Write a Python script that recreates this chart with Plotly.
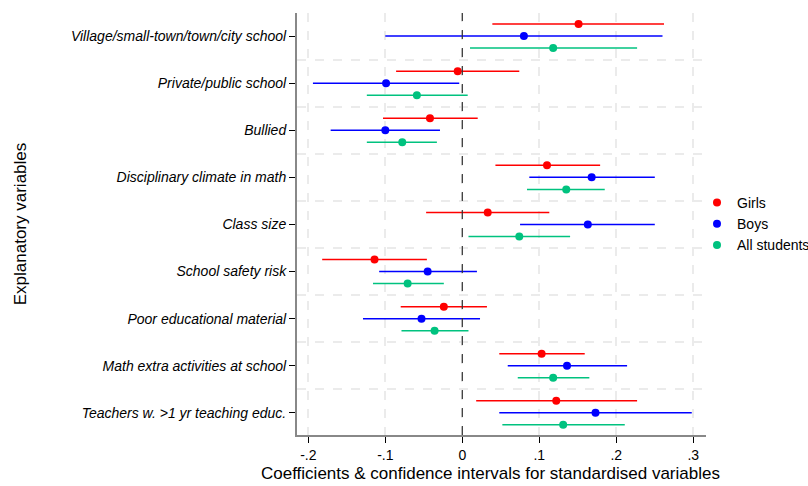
import plotly.graph_objects as go

variables = [
    "Village/small-town/town/city school",
    "Private/public school",
    "Bullied",
    "Disciplinary climate in math",
    "Class size",
    "School safety risk",
    "Poor educational material",
    "Math extra activities at school",
    "Teachers w. >1 yr teaching educ.",
]

girls_coef = [0.151, -0.006, -0.042, 0.110, 0.033, -0.114, -0.024, 0.103, 0.122]
girls_lo = [0.039, -0.086, -0.103, 0.043, -0.047, -0.182, -0.080, 0.048, 0.018]
girls_hi = [0.262, 0.074, 0.020, 0.179, 0.113, -0.046, 0.032, 0.159, 0.227]

boys_coef = [0.080, -0.099, -0.100, 0.168, 0.163, -0.045, -0.053, 0.136, 0.173]
boys_lo = [-0.100, -0.194, -0.171, 0.087, 0.075, -0.108, -0.129, 0.059, 0.048]
boys_hi = [0.260, -0.004, -0.029, 0.250, 0.250, 0.019, 0.023, 0.214, 0.298]

all_coef = [0.118, -0.059, -0.078, 0.135, 0.074, -0.071, -0.036, 0.118, 0.131]
all_lo = [0.010, -0.124, -0.124, 0.084, 0.008, -0.116, -0.079, 0.072, 0.052]
all_hi = [0.227, 0.007, -0.033, 0.185, 0.140, -0.024, 0.008, 0.165, 0.211]

x_ticks = [-0.2, -0.1, 0, 0.1, 0.2, 0.3]
x_tick_labels = ["-.2", "-.1", "0", ".1", ".2", ".3"]

series = [
    ("Girls", girls_coef, girls_lo, girls_hi, "#FF0000", -0.255),
    ("Boys", boys_coef, boys_lo, boys_hi, "#0000FF", 0.0),
    ("All students", all_coef, all_lo, all_hi, "#00C27F", 0.255),
]

fig = go.Figure()
for name, coef, lo, hi, color, off in series:
    ys = [i + off for i in range(len(variables))]
    fig.add_trace(go.Scatter(
        x=coef, y=ys, mode="markers", name=name,
        marker=dict(color=color, size=8),
        error_x=dict(type="data", symmetric=False,
                     array=[h - c for h, c in zip(hi, coef)],
                     arrayminus=[c - l for c, l in zip(coef, lo)],
                     color=color, thickness=1.5, width=0),
    ))

fig.add_shape(type="line", xref="x", yref="paper", x0=0, x1=0, y0=0, y1=1,
              line=dict(color="#333333", width=1.2, dash="dash"))

fig.add_annotation(
    text="Coefficients & confidence intervals for standardised variables",
    xref="paper", yref="paper", x=0.472, y=-0.0924,
    xanchor="center", yanchor="middle", showarrow=False,
    font=dict(size=17),
)

font_family = "Liberation Sans, Arial, sans-serif"
fig.update_layout(
    width=808, height=486,
    margin=dict(l=297, r=102, t=13, b=51, autoexpand=False),
    plot_bgcolor="white", paper_bgcolor="white",
    font=dict(family=font_family, color="black", size=14),
    showlegend=True,
    legend=dict(x=0.978, y=0.5, xanchor="left", yanchor="middle",
                font=dict(size=14), itemwidth=30, tracegroupgap=0,
                bgcolor="rgba(0,0,0,0)"),
    xaxis=dict(
        range=[-0.2147, 0.3165], tickvals=x_ticks, ticktext=x_tick_labels,
        showline=True, linecolor="#888888", linewidth=2, mirror=False,
        ticks="outside", ticklen=6, tickcolor="black",
        showgrid=True, gridcolor="#EBEBEB", gridwidth=1.5, griddash="dash",
        zeroline=False, tickfont=dict(size=14), automargin=False,
    ),
    yaxis=dict(
        range=[8.47, -0.49], tickvals=list(range(len(variables))),
        ticktext=variables, tickfont=dict(size=14, style="italic"),
        showline=True, linecolor="#888888", linewidth=2,
        ticks="outside", ticklen=6, tickcolor="black",
        showgrid=False, zeroline=False, automargin=False,
        minor=dict(tick0=0.5, dtick=1, showgrid=True, gridcolor="#EBEBEB",
                   gridwidth=1.5, griddash="dash", ticks=""),
        title=dict(text="Explanatory variables", font=dict(size=17), standoff=40),
    ),
)

fig.write_html("out.html", config={"displayModeBar": False},
               post_script="document.body.style.margin='0';")
